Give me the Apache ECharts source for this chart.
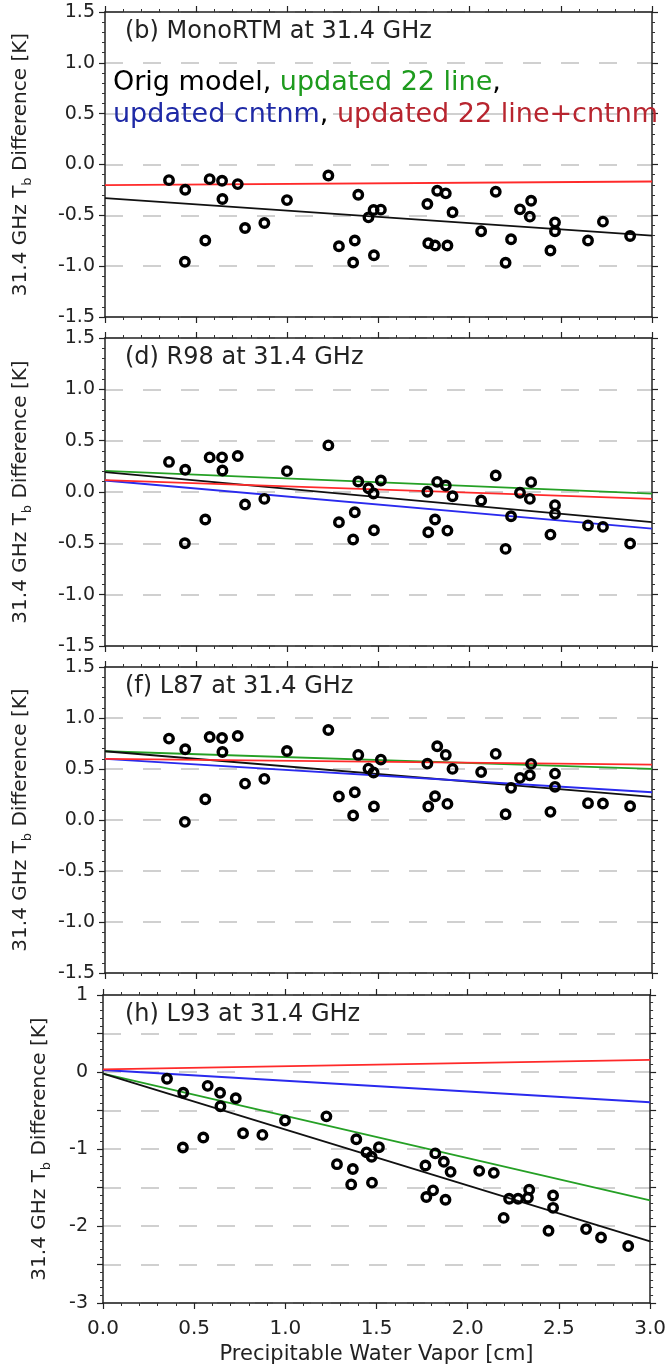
<!DOCTYPE html>
<html><head><meta charset="utf-8">
<script src="https://cdn.jsdelivr.net/npm/echarts@6.0.0/dist/echarts.min.js"></script>
<style>html,body{margin:0;padding:0;background:#fff}#c{width:669px;height:1368px}</style>
</head><body><div id="c"></div>
<script>
// Precipitable water vapor [cm] (shared by all panels)
const pwv = [0.351,0.44,0.438,0.55,0.574,0.642,0.644,0.728,0.768,0.874,0.998,1.225,1.283,1.389,1.37,1.361,1.445,1.473,1.475,1.513,1.768,1.773,1.81,1.822,1.869,1.878,1.906,2.063,2.143,2.197,2.227,2.276,2.33,2.337,2.443,2.468,2.468,2.649,2.731,2.88];
// Tb differences [K]
const monoY = [-0.154,-0.248,-0.957,-0.748,-0.144,-0.16,-0.34,-0.193,-0.624,-0.575,-0.35,-0.108,-0.804,-0.297,-0.748,-0.964,-0.52,-0.448,-0.892,-0.444,-0.389,-0.775,-0.797,-0.258,-0.284,-0.797,-0.47,-0.657,-0.268,-0.967,-0.735,-0.441,-0.513,-0.356,-0.846,-0.569,-0.657,-0.748,-0.562,-0.703];
const r98Y = [0.293,0.216,-0.499,-0.268,0.337,0.337,0.21,0.35,-0.122,-0.067,0.203,0.454,-0.294,0.102,-0.197,-0.463,0.037,-0.015,-0.372,0.112,0.002,-0.392,-0.268,0.099,0.063,-0.376,-0.041,-0.083,0.161,-0.554,-0.236,-0.008,-0.067,0.096,-0.415,-0.128,-0.213,-0.327,-0.34,-0.502];
const l87Y = [0.798,0.693,-0.018,0.204,0.814,0.804,0.667,0.824,0.357,0.403,0.677,0.883,0.23,0.638,0.272,0.044,0.504,0.465,0.132,0.592,0.553,0.132,0.233,0.723,0.638,0.158,0.501,0.471,0.648,0.057,0.315,0.413,0.439,0.55,0.08,0.455,0.325,0.165,0.162,0.135];
const l93Y = [-0.087,-0.27,-0.98,-0.85,-0.18,-0.27,-0.445,-0.34,-0.795,-0.817,-0.63,-0.576,-1.197,-0.873,-1.26,-1.46,-1.044,-1.10,-1.437,-0.978,-1.214,-1.624,-1.537,-1.057,-1.166,-1.66,-1.297,-1.284,-1.31,-1.895,-1.646,-1.646,-1.633,-1.528,-2.061,-1.603,-1.764,-2.04,-2.15,-2.26];
// Fit lines: values at PWV = 0 and 3 cm
const lineX = [0, 3];
const monoOrig = [-0.33, -0.70];
const monoBoth = [-0.203, -0.167];
const r98Orig = [0.193, -0.294];
const r98Line22 = [0.206, -0.015];
const r98Cntnm = [0.112, -0.356];
const r98Both = [0.115, -0.067];
const l87Orig = [0.674, 0.227];
const l87Line22 = [0.674, 0.501];
const l87Cntnm = [0.599, 0.272];
const l87Both = [0.599, 0.543];
const l93Orig = [-0.022, -2.2];
const l93Line22 = [-0.022, -1.668];
const l93Cntnm = [0.026, -0.393];
const l93Both = [0.035, 0.157];
const panelTitles = ['(b) MonoRTM at 31.4 GHz', '(d) R98 at 31.4 GHz', '(f) L87 at 31.4 GHz', '(h) L93 at 31.4 GHz'];
const yRanges = [[-1.5, 1.5], [-1.5, 1.5], [-1.5, 1.5], [-3, 1]];
const yName = '31.4 GHz T{sub|b} Difference [K]';
const xName = 'Precipitable Water Vapor [cm]';

const FONT = 'DejaVu Sans';
const C = {orig:'#111111', line22:'#25a025', cntnm:'#2a2aee', both:'#ff2a2a'};
const tops = [12, 338, 667, 995];
const heights = [305, 308, 306, 308];

const panels = [
  {y: monoY, lines: [['orig', monoOrig], ['both', monoBoth]]},
  {y: r98Y, lines: [['line22', r98Line22], ['orig', r98Orig], ['cntnm', r98Cntnm], ['both', r98Both]]},
  {y: l87Y, lines: [['line22', l87Line22], ['orig', l87Orig], ['cntnm', l87Cntnm], ['both', l87Both]]},
  {y: l93Y, lines: [['line22', l93Line22], ['orig', l93Orig], ['cntnm', l93Cntnm], ['both', l93Both]]}
];

const axisLine = {show: true, onZero: false, lineStyle: {color: '#222', width: 1.5}};
const tick = {show: true, inside: false, length: 6, lineStyle: {color: '#222', width: 1.2}};
const minor = {show: true, splitNumber: 5, length: 3, lineStyle: {color: '#333', width: 1}};

const grid = [], xAxis = [], yAxis = [], series = [], title = [];
panels.forEach((p, i) => {
  grid.push({left: 103, width: 549, top: tops[i], height: heights[i]});
  const last = i === 3;
  xAxis.push({gridIndex: i, type: 'value', min: 0, max: 3, interval: 0.5, position: 'bottom',
    axisLine, axisTick: tick, minorTick: minor, splitLine: {show: false},
    axisLabel: {show: last, margin: 16, fontFamily: FONT, fontSize: 20, color: '#222', formatter: v => v.toFixed(1)},
    name: last ? xName : '', nameLocation: 'middle', nameGap: 41,
    nameTextStyle: {fontFamily: FONT, fontSize: 21, color: '#222'}});
  xAxis.push({gridIndex: i, type: 'value', min: 0, max: 3, interval: 0.5, position: 'top',
    axisLine, axisTick: tick, minorTick: minor, splitLine: {show: false}, axisLabel: {show: false}});
  const [mn, mx] = yRanges[i];
  yAxis.push({gridIndex: i, type: 'value', min: mn, max: mx, interval: 0.5, position: 'left',
    axisLine, axisTick: tick, minorTick: minor,
    splitLine: {show: true, lineStyle: {color: '#d0d0d0', width: 2, type: [18, 20]}},
    axisLabel: {margin: last ? 15 : 10, fontFamily: FONT, fontSize: 19, color: '#222',
      formatter: v => last ? (Math.abs(v - Math.round(v)) < 1e-9 ? String(Math.round(v)) : '') : v.toFixed(1)},
    name: yName, nameLocation: 'middle', nameGap: last ? 50 : 71, nameRotate: 90,
    nameTextStyle: {fontFamily: FONT, fontSize: 20, color: '#222', lineHeight: 26,
      rich: {sub: {fontFamily: FONT, fontSize: 13, color: '#222', verticalAlign: 'bottom', lineHeight: 14}}}});
  yAxis.push({gridIndex: i, type: 'value', min: mn, max: mx, interval: 0.5, position: 'right',
    axisLine, axisTick: tick, minorTick: minor, splitLine: {show: false}, axisLabel: {show: false}});
  p.lines.forEach(([k, v]) => {
    series.push({type: 'line', xAxisIndex: 2 * i, yAxisIndex: 2 * i, showSymbol: false, silent: true, z: 3,
      lineStyle: {color: C[k], width: 1.8}, data: lineX.map((x, j) => [x, v[j]])});
  });
  series.push({type: 'scatter', xAxisIndex: 2 * i, yAxisIndex: 2 * i, z: 5, symbol: 'circle', symbolSize: 8.5,
    itemStyle: {color: 'rgba(0,0,0,0)', borderColor: '#000', borderWidth: 3.4, opacity: 1},
    data: pwv.map((x, j) => [x, p.y[j]])});
  title.push({text: panelTitles[i], left: 125, top: tops[i] + 8, padding: 0,
    textStyle: {fontFamily: FONT, fontSize: 24, fontWeight: 'normal', color: '#222'}});
});
title.push({text: '{k|Orig model, }{g|updated 22 line}{k|,}\n{b|updated cntnm}{k|, }{r|updated 22 line+cntnm}',
  left: 113, top: 67, padding: 0,
  textStyle: {fontFamily: FONT, fontSize: 27, fontWeight: 'normal', lineHeight: 32,
    rich: {k: {color: '#000', fontFamily: FONT, fontSize: 27, lineHeight: 32},
      g: {color: '#1e9b1e', fontFamily: FONT, fontSize: 27, lineHeight: 32},
      b: {color: '#1f2aa6', fontFamily: FONT, fontSize: 27, lineHeight: 32},
      r: {color: '#b8252f', fontFamily: FONT, fontSize: 27, lineHeight: 32}}}});

const chart = echarts.init(document.getElementById('c'), null, {renderer: 'canvas'});
chart.setOption({animation: false, backgroundColor: '#fff', grid, xAxis, yAxis, series, title});
</script></body></html>
